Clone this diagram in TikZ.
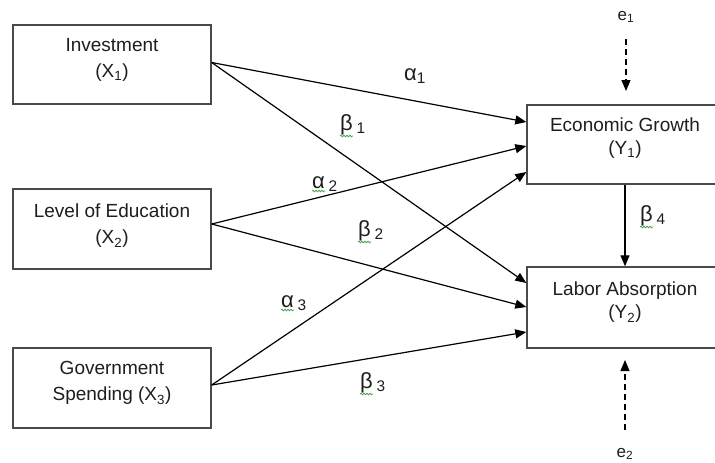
\documentclass[tikz,border=0pt]{standalone}
\usepackage{fontspec}
\setmainfont{Liberation Sans}
\usetikzlibrary{arrows.meta,decorations.pathmorphing}
\definecolor{boxgray}{HTML}{4A4A4A}
\definecolor{txt}{HTML}{1E1E1E}
\definecolor{squiggreen}{RGB}{76,160,76}
\begin{document}
\begin{tikzpicture}[x=1pt,y=-1pt,
  box/.style={draw=boxgray,line width=1.4pt,minimum width=198pt,inner sep=0pt},
  xtext/.style={align=center,text=txt,inner sep=0pt,font=\fontsize{19}{26}\selectfont},
  ytext/.style={align=center,text=txt,inner sep=0pt,font=\fontsize{19}{23}\selectfont},
  path/.style={draw=black,line width=1.2pt,-{Triangle[length=11pt,width=9pt]}},
  dpath/.style={path,dash pattern=on 6pt off 4pt},
  coef/.style={font=\fontsize{22}{26}\selectfont,text=txt,inner sep=0pt,anchor=base west},
  etext/.style={font=\fontsize{17}{20}\selectfont,text=txt,inner sep=0pt},
  squig/.style={draw=squiggreen,line width=0.8pt,decorate,decoration={snake,segment length=3pt,amplitude=0.8pt}}]
\clip (0,0) rectangle (715,463);
\fill[white] (0,0) rectangle (715,463);

% boxes
\node[box,minimum height=79pt] (x1) at (112,64.5) {};
\node[box,minimum height=80pt] (x2) at (112,229) {};
\node[box,minimum height=80pt] (x3) at (112,388) {};
\node[box,minimum width=196pt,minimum height=79pt] (y1) at (625,144.5) {};
\node[box,minimum width=196pt,minimum height=81pt] (y2) at (625,307.5) {};

% box texts
\node[xtext] (x1t) at (112,60) {Investment\\(X\textsubscript{1})};
\node[xtext] (x2t) at (112,226) {Level of Education\\(X\textsubscript{2})};
\node[xtext] (x3t) at (112,383) {Government\\Spending (X\textsubscript{3})};
\node[ytext] (y1t) at (625,138) {Economic Growth\\(Y\textsubscript{1})};
\node[ytext] (y2t) at (625,302.5) {Labor Absorption\\(Y\textsubscript{2})};

% paths
\draw[path] ([yshift=2pt]x1.east) -- ([yshift=22.5pt]y1.west);
\draw[path] ([yshift=2pt]x1.east) -- ([yshift=24.5pt]y2.west);
\draw[path] ([yshift=5pt]x2.east) -- ([yshift=-1.5pt]y1.west);
\draw[path] ([yshift=5pt]x2.east) -- ([yshift=0.5pt]y2.west);
\draw[path] ([yshift=3pt]x3.east) -- ([yshift=-27.5pt]y1.west);
\draw[path] ([yshift=3pt]x3.east) -- ([yshift=-24.5pt]y2.west);
\draw[path] (y1.south) -- (y2.north);

% error terms
\node[etext] (e1) at (626,17) {e\textsubscript{1}};
\coordinate (e1tip) at (626,91);
\draw[dpath,shorten <=16pt] (e1) -- (e1tip);
\node[etext] (e2) at (625,454) {e\textsubscript{2}};
\coordinate (e2tip) at (625,360);
\draw[dpath,shorten <=18pt] (e2) -- (e2tip);

% coefficients
\node[coef] (a1) at (404,80) {α\textsubscript{1}};
\node[coef] (b1) at (340,130) {β\,\textsubscript{1}};
\node[coef] (a2) at (312,188) {α\,\textsubscript{2}};
\node[coef] (b2) at (358,236) {β\,\textsubscript{2}};
\node[coef] (a3) at (281,307) {α\,\textsubscript{3}};
\node[coef] (b3) at (360,388) {β\,\textsubscript{3}};
\node[coef] (b4) at (640,221) {β\,\textsubscript{4}};

% spell-check squiggles
\draw[squig] ([yshift=-6pt]b1.base west) -- ++(13,0);
\draw[squig] ([yshift=-3pt]a2.base west) -- ++(13,0);
\draw[squig] ([yshift=-6pt]b2.base west) -- ++(13,0);
\draw[squig] ([yshift=-3pt]a3.base west) -- ++(13,0);
\draw[squig] ([yshift=-6pt]b3.base west) -- ++(13,0);
\draw[squig] ([yshift=-6pt]b4.base west) -- ++(13,0);
\end{tikzpicture}
\end{document}
